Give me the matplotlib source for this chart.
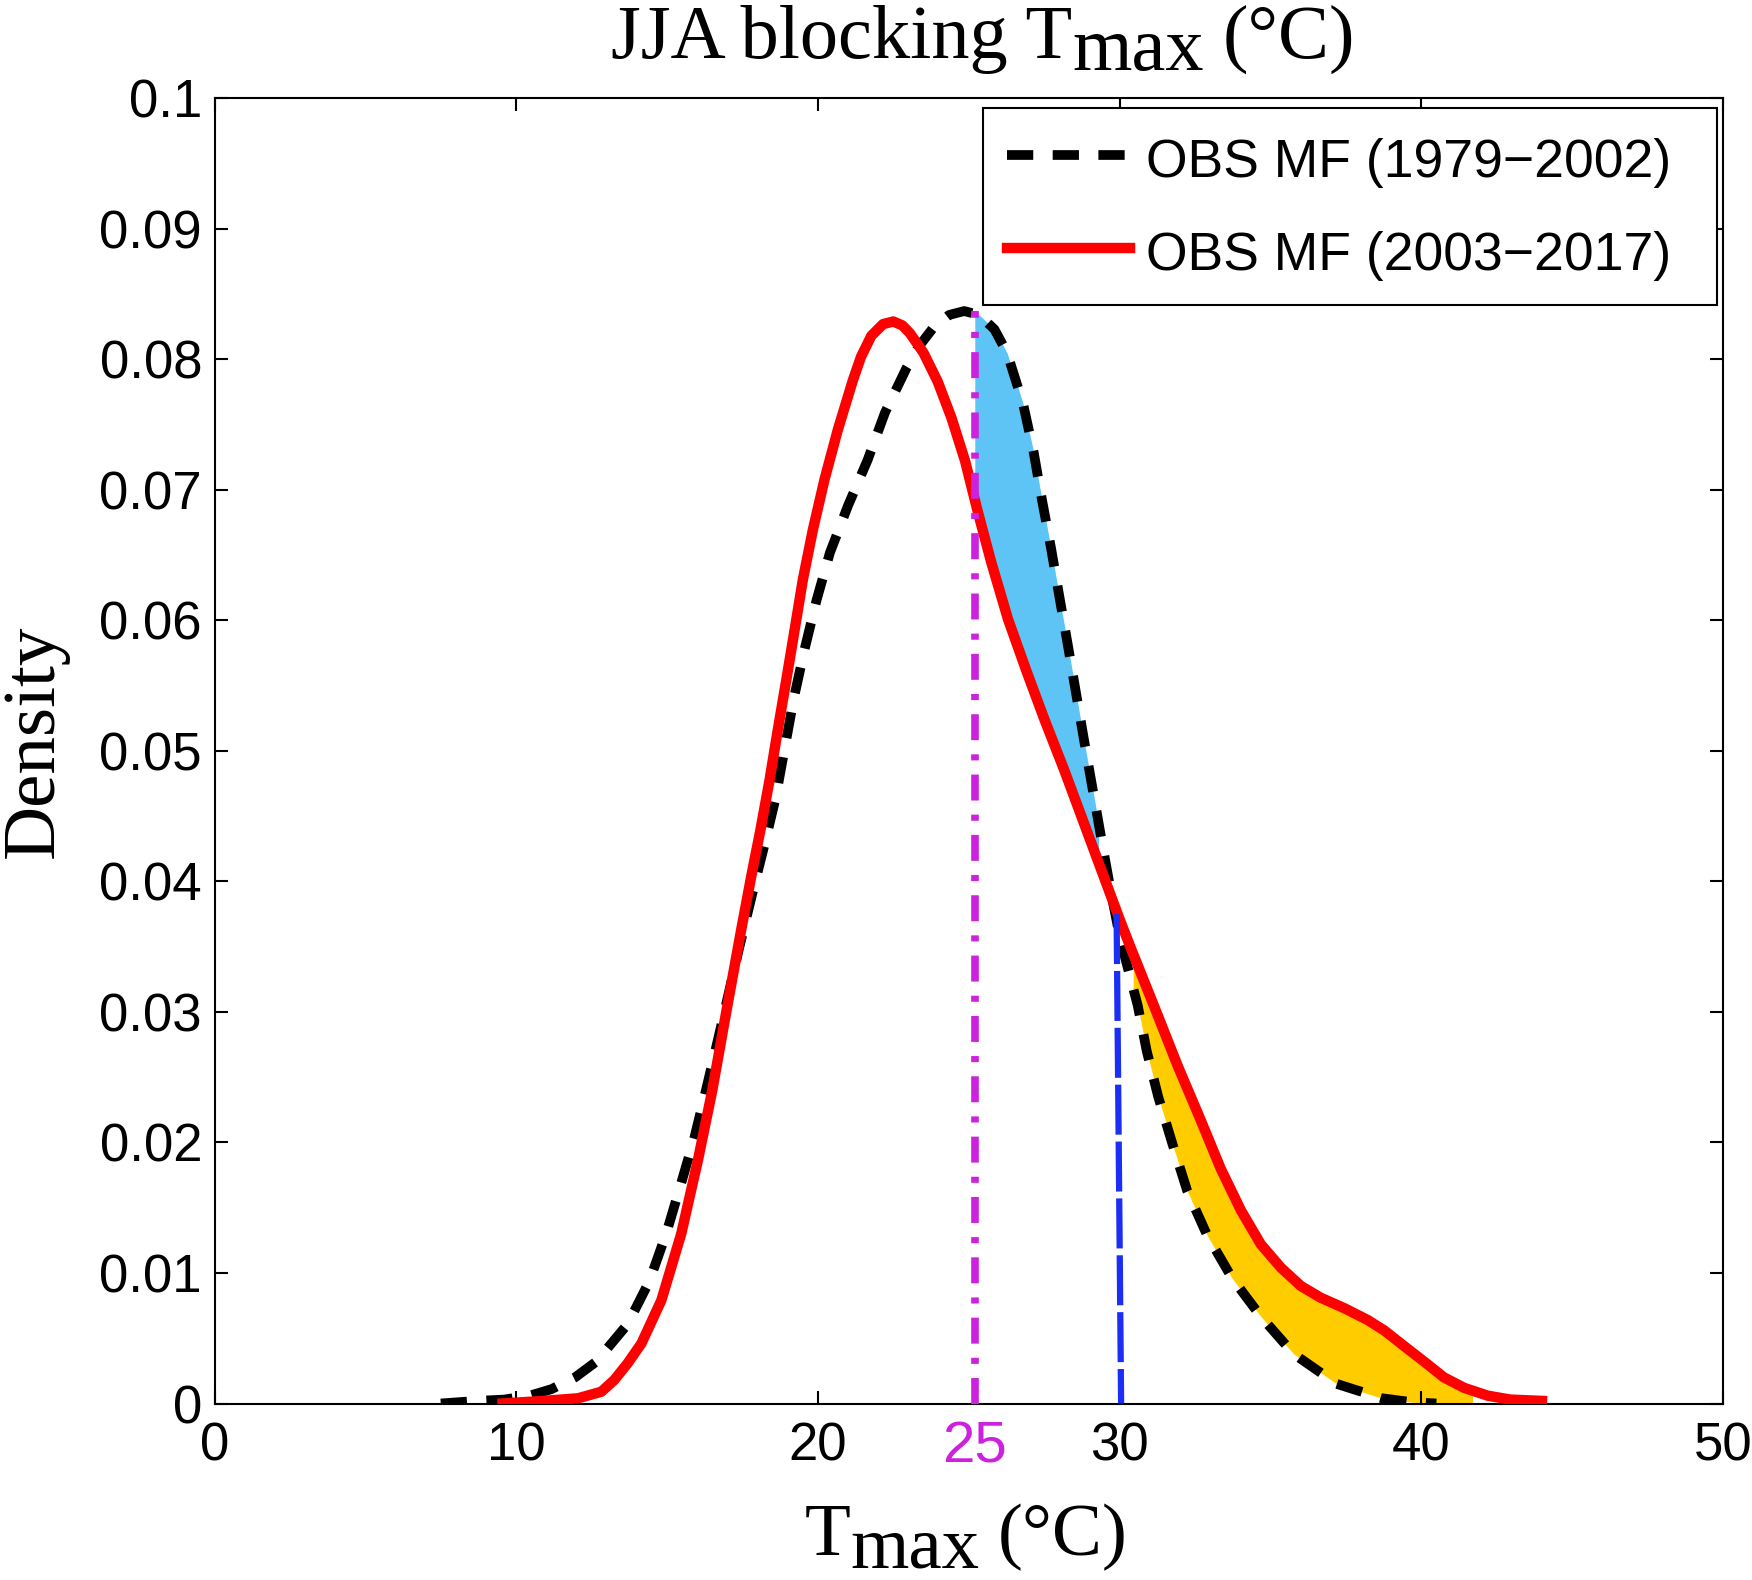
import numpy as np
import matplotlib
matplotlib.use("Agg")
import matplotlib.pyplot as plt
from matplotlib.transforms import IdentityTransform

# density curves
x_old = [7.5, 8.7, 9.6, 10.45, 11.17, 11.95, 12.65, 13.7, 14.42, 14.97, 15.47, 15.91,
         16.3, 16.68, 17.07, 17.4, 17.85, 18.25, 18.6, 18.9, 19.2, 19.55, 19.95,
         20.4, 21.0, 21.65, 22.22, 22.95, 23.35, 23.85, 24.35, 24.85, 25.35, 25.85,
         26.27, 26.8, 27.15, 27.43, 27.73, 28.02, 28.3, 28.58, 28.86, 29.15, 29.43,
         29.72, 30.03, 30.6, 30.9, 31.28, 31.75, 32.24, 32.9, 33.73, 34.67, 35.77,
         37.2, 38.7, 39.7, 40.5]
y_old = [0.0, 0.0002, 0.0003, 0.0006, 0.0011, 0.0020, 0.0032, 0.0061, 0.0094, 0.0130,
         0.0169, 0.0204, 0.0241, 0.0278, 0.0317, 0.0350, 0.0393, 0.0430, 0.0464, 0.0502,
         0.0540, 0.0577, 0.0615, 0.0652, 0.0688, 0.0723, 0.0759, 0.0794, 0.0810, 0.0825,
         0.0834, 0.0837, 0.0834, 0.0823, 0.0805, 0.0766, 0.0729, 0.0692, 0.0655, 0.0616,
         0.0579, 0.0541, 0.0503, 0.0465, 0.0428, 0.0391, 0.0355, 0.0305, 0.0270, 0.0235,
         0.0199, 0.0163, 0.0129, 0.0096, 0.0067, 0.0038, 0.0015, 0.0004, 0.0001, 0.0]

x_new = [9.55, 10.9, 12.05, 12.82, 13.25, 13.7, 14.15, 14.81, 15.47, 16.02, 16.5, 16.97,
         17.45, 17.8, 18.1, 18.4, 18.67, 18.95, 19.23, 19.5, 19.83, 20.22, 20.66,
         21.16, 21.43, 21.77, 22.16, 22.5, 22.8, 23.05, 23.5, 23.97, 24.43, 24.88, 25.28,
         25.74, 26.3, 26.9, 27.51, 28.17, 28.78, 29.39, 30.0, 30.37, 31.15, 31.92,
         32.69, 33.35, 34.02, 34.68, 35.35, 36.01, 36.67, 37.45, 38.22, 38.77, 39.43,
         40.1, 40.75, 41.42, 42.2, 42.95, 44.0]
y_new = [0.0, 0.0002, 0.0004, 0.0009, 0.0018, 0.0031, 0.0046, 0.0079, 0.0130, 0.0186,
         0.0240, 0.0301, 0.0362, 0.0405, 0.0440, 0.0478, 0.0516, 0.0554, 0.0593, 0.0631,
         0.0669, 0.0708, 0.0746, 0.0784, 0.0802, 0.0818, 0.0827, 0.0829, 0.0826, 0.0820,
         0.0805, 0.0783, 0.0755, 0.0722, 0.0685, 0.0645, 0.0601, 0.0562, 0.0524, 0.0485,
         0.0447, 0.0409, 0.0371, 0.0349, 0.0304, 0.0259, 0.0217, 0.0180, 0.0148, 0.0122,
         0.0104, 0.0090, 0.0081, 0.0073, 0.0064, 0.0056, 0.0044, 0.0032, 0.0020, 0.0012,
         0.0006, 0.0003, 0.0002]

label_old = "OBS MF (1979\u22122002)"
label_new = "OBS MF (2003\u22122017)"

threshold_x = 25.2
threshold_label = "25"
threshold_top = 0.0837
p90_line_x = [29.9, 30.05]
p90_line_y = [0.0375, 0.0]
blue_range = [25.2, 29.3]
orange_range = [30.45, 41.7]

xticks = [0, 10, 20, 30, 40, 50]
yticks = [0, 0.01, 0.02, 0.03, 0.04, 0.05, 0.06, 0.07, 0.08, 0.09, 0.1]
ytick_labels = ["0", "0.01", "0.02", "0.03", "0.04", "0.05", "0.06", "0.07", "0.08", "0.09", "0.1"]

sans = ["Liberation Sans", "DejaVu Sans"]
serif = ["Liberation Serif", "DejaVu Serif"]
magenta = "#CC22DD"

W, H = 1752, 1580
fig = plt.figure(figsize=(W / 100, H / 100), dpi=100)
ax = fig.add_axes([214.5 / W, 1 - 1403.5 / H, 1508.5 / W, 1305.2 / H])

# shaded differences between the two periods
g1 = np.linspace(blue_range[0], blue_range[1], 300)
ax.fill_between(g1, np.interp(g1, x_new, y_new), np.interp(g1, x_old, y_old),
                color="#5EC3F5", lw=0, zorder=1)
g2 = np.linspace(orange_range[0], orange_range[1], 400)
ax.fill_between(g2, np.interp(g2, x_old, y_old, right=0), np.interp(g2, x_new, y_new),
                color="#FFCC00", lw=0, zorder=1)

ax.plot(x_old, y_old, color="black", lw=7, ls=(0, (2.7, 2.0)), label=label_old, zorder=3)
ax.plot(x_new, y_new, color="red", lw=7.5, label=label_new, zorder=4)

ax.plot([threshold_x, threshold_x], [0, threshold_top], color=magenta, lw=5.5,
        ls=(0, (3.4, 1.85, 0.8, 1.85)), zorder=5)
ax.plot(p90_line_x, p90_line_y, color="#1A2EF5", lw=4.5, ls=(0, (8, 1.1)), zorder=5)

ax.set_xlim(0, 50)
ax.set_ylim(0, 0.1)
ax.set_xticks(xticks)
ax.set_xticklabels([str(t) for t in xticks])
ax.set_yticks(yticks)
ax.set_yticklabels(ytick_labels)
ax.tick_params(direction="in", top=True, right=True, length=9.6, width=1.5,
               labelsize=38)
ax.tick_params(axis="x", pad=13)
ax.tick_params(axis="y", pad=9)
for lab in ax.get_xticklabels() + ax.get_yticklabels():
    lab.set_family(sans)
for sp in ax.spines.values():
    sp.set_linewidth(1.5)

ax.text(threshold_x, -0.0013, threshold_label, color=magenta, fontsize=42, family=sans,
        ha="center", va="top")

leg = ax.legend(loc="upper left", bbox_to_anchor=(0.5096, 0.9923, 0.4864, 0), mode="expand",
                borderaxespad=0, prop={"family": sans, "size": 38.5},
                handlelength=2.3, handleheight=1.15, handletextpad=0.3, borderpad=0.45,
                labelspacing=0.7, fancybox=False, framealpha=1)
leg.get_frame().set_edgecolor("black")
leg.get_frame().set_linewidth(1.5)

fig.text(35 / W, 1 - 741 / H, "Density", rotation=90, ha="center", va="center",
         fontsize=54, family=serif)


def rich(parts, cx, base, fs):
    # text pieces side by side, the "max" piece dropped below the baseline
    r = fig.canvas.get_renderer()
    gap = 0.25 * fs * 100 / 72
    objs = []
    for s, dy, sp in parts:
        t = fig.text(0, 0, s, fontsize=fs, family=serif, transform=IdentityTransform(),
                     va="baseline", ha="left")
        objs.append((t, dy, sp))
    widths = [t.get_window_extent(r).width + (gap if sp else 0) for t, _, sp in objs]
    x = cx - sum(widths) / 2
    for (t, dy, sp), w in zip(objs, widths):
        t.set_position((x + (gap if sp else 0), base - dy))
        x += w


rich([("JJA blocking T", 0, False), ("max", 12, False), ("(\u00b0C)", 0, True)], 983, H - 58, 55)
rich([("T", 0, False), ("max", 12, False), ("(\u00b0C)", 0, True)], 966, H - 1555, 54)

fig.savefig("out.png", dpi=100)
